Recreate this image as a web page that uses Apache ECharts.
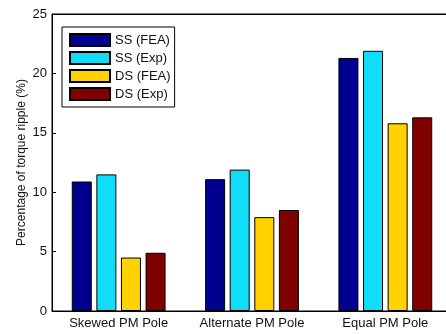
<!DOCTYPE html>
<html><head><meta charset="utf-8">
<script src="https://cdn.jsdelivr.net/npm/echarts@6/dist/echarts.min.js"></script>
<style>html,body{margin:0;padding:0;background:#fff}#c{width:446px;height:334px}</style>
</head><body><div id="c"></div>
<script>
const categories = ['Skewed PM Pole', 'Alternate PM Pole', 'Equal PM Pole'];
const seriesNames = ['SS (FEA)', 'SS (Exp)', 'DS (FEA)', 'DS (Exp)'];
const ssFea = [10.9, 11.1, 21.3];
const ssExp = [11.5, 11.9, 21.9];
const dsFea = [4.5, 7.9, 15.8];
const dsExp = [4.9, 8.5, 16.3];
const colors = ['#000090', '#10DEF8', '#FFD200', '#800000'];
const yTicks = [0, 5, 10, 15, 20, 25];

const values = [ssFea, ssExp, dsFea, dsExp];
const font = 'Liberation Sans, Arial, sans-serif';
const chart = echarts.init(document.getElementById('c'), null, {renderer: 'canvas'});
chart.setOption({
  backgroundColor: '#fff',
  animation: false,
  grid: {left: 52, top: 14, bottom: 23, width: 400, outerBoundsMode: 'none', containLabel: false,
         show: true, borderColor: '#000', borderWidth: 1, backgroundColor: '#fff'},
  legend: {
    left: 62, top: 27, orient: 'vertical',
    icon: 'rect',
    itemWidth: 40, itemHeight: 12, itemGap: 4,
    padding: [6, 4, 6, 7],
    borderColor: '#000', borderWidth: 1, backgroundColor: '#fff',
    textStyle: {fontFamily: font, fontSize: 13, lineHeight: 14, color: '#111'},
    data: seriesNames
  },
  xAxis: [{
    type: 'category', data: categories, position: 'bottom',
    axisLine: {lineStyle: {color: '#000'}},
    axisTick: {inside: true, alignWithLabel: true, length: 4, lineStyle: {color: '#000'}},
    axisLabel: {interval: 0, hideOverlap: false, fontFamily: font, fontSize: 13, color: '#111', margin: 6}
  }, {
    type: 'category', data: categories, position: 'top',
    axisLine: {lineStyle: {color: '#000'}},
    axisTick: {inside: true, alignWithLabel: true, length: 4, lineStyle: {color: '#000'}},
    axisLabel: {show: false}
  }],
  yAxis: {
    type: 'value', min: yTicks[0], max: yTicks[yTicks.length - 1], interval: 5,
    name: 'Percentage of torque ripple (%)', nameLocation: 'middle', nameGap: 24,
    nameMoveOverlap: false,
    nameTextStyle: {fontFamily: font, fontSize: 12, color: '#111'},
    axisLine: {show: true, lineStyle: {color: '#000'}},
    axisTick: {show: true, inside: true, length: 4, lineStyle: {color: '#000'}},
    axisLabel: {fontFamily: font, fontSize: 13, color: '#111', margin: 5},
    splitLine: {show: false}
  },
  series: seriesNames.map((n, i) => ({
    name: n, type: 'bar', data: values[i], barWidth: 20, barGap: '23%',
    itemStyle: {color: colors[i], borderColor: '#000', borderWidth: 1}
  }))
});
</script></body></html>
